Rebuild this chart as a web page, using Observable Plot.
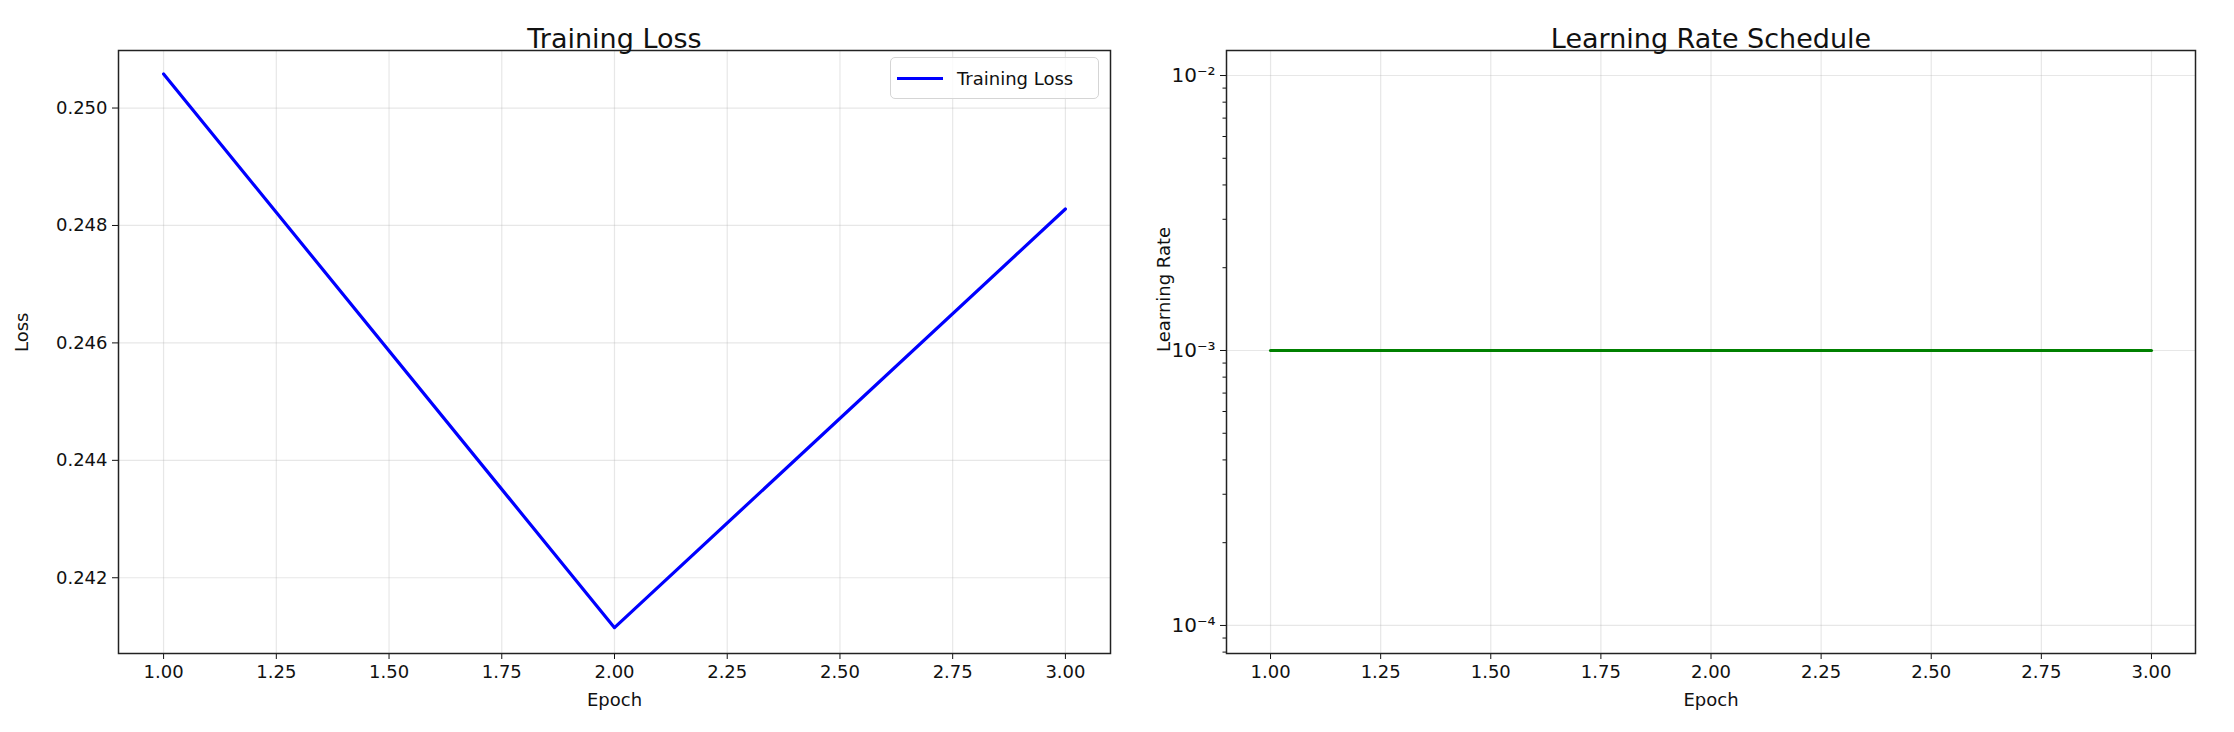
<!DOCTYPE html>
<html>
<head>
<meta charset="utf-8">
<script src="https://cdn.jsdelivr.net/npm/d3@7"></script>
<script src="https://cdn.jsdelivr.net/npm/@observablehq/plot@0.6"></script>
<style>
  body { margin: 0; background: white; font-family: "DejaVu Sans", sans-serif; }
  #wrap { position: relative; width: 2234px; height: 732px; display: flex; }
  .legend { position: absolute; left: 890px; top: 57px; width: 209px; height: 42px; box-sizing: border-box;
    border: 1.5px solid #d5d5d5; border-radius: 5px; background: rgba(255,255,255,0.8);
    display: flex; align-items: center; font-size: 18px; color: #111; }
  .legend span.sw { display: inline-block; width: 46px; height: 3px; background: blue; margin: 0 14px 0 6px; }
</style>
</head>
<body>
<div id="wrap"></div>
<script>
// values
const epochs = [1, 2, 3]
const loss = [0.25058, 0.24115, 0.24828]
const lr = [0.001, 0.001, 0.001]
const xTicks = [1, 1.25, 1.5, 1.75, 2, 2.25, 2.5, 2.75, 3]
const lossTicks = [0.242, 0.244, 0.246, 0.248, 0.250]
const lrTicks = [1e-4, 1e-3, 1e-2]

const lossData = epochs.map((e, i) => ({epoch: e, value: loss[i]}))
const lrData = epochs.map((e, i) => ({epoch: e, value: lr[i]}))

const sup = {"-": "⁻", "0": "⁰", "1": "¹", "2": "²", "3": "³", "4": "⁴", "5": "⁵", "6": "⁶", "7": "⁷", "8": "⁸", "9": "⁹"}
const logFmt = d => "10" + String(Math.round(Math.log10(d))).split("").map(c => sup[c]).join("")
// minor log ticks 2..9 per decade inside the domain
const minor = d3.range(-5, -1).flatMap(p => d3.range(2, 10).map(k => k * 10 ** p)).filter(v => v > 10 ** -4.102 && v < 10 ** -1.909)

const style = {fontFamily: "DejaVu Sans, sans-serif", fontSize: "18px", color: "#111", background: "white"}
const grid = {stroke: "#b0b0b0", strokeOpacity: 0.3, strokeWidth: 1.2}

let chart1 = Plot.plot({
  width: 1150, height: 732,
  marginLeft: 118, marginRight: 40, marginTop: 50, marginBottom: 79,
  style,
  x: {domain: [0.9, 3.1]},
  y: {domain: [0.24071, 0.25098]},
  marks: [
    Plot.gridX(xTicks, grid),
    Plot.gridY(lossTicks, grid),
    Plot.axisX(xTicks, {tickSize: 6, tickPadding: 6, tickFormat: d3.format(".2f"), fontSize: 18, label: null}),
    Plot.axisY(lossTicks, {tickSize: 6, tickPadding: 5, tickFormat: d3.format(".3f"), fontSize: 18, label: null}),
    Plot.lineY(lossData, {x: "epoch", y: "value", stroke: "blue", strokeWidth: 3.2}),
    Plot.frame({stroke: "#222", strokeWidth: 1.5}),
    Plot.text(["Training Loss"], {frameAnchor: "top", dy: -22, fontSize: 27}),
    Plot.text(["Epoch"], {frameAnchor: "bottom", dy: 52, fontSize: 18}),
    Plot.text(["Loss"], {frameAnchor: "left", dx: -96, rotate: -90, fontSize: 18})
  ]
})

let chart2 = Plot.plot({
  width: 1084, height: 732,
  marginLeft: 76, marginRight: 39, marginTop: 50, marginBottom: 79,
  style,
  x: {domain: [0.9, 3.1]},
  y: {type: "log", domain: [10 ** -4.102, 10 ** -1.909]},
  marks: [
    Plot.gridX(xTicks, grid),
    Plot.gridY(lrTicks, grid),
    Plot.axisX(xTicks, {tickSize: 6, tickPadding: 6, tickFormat: d3.format(".2f"), fontSize: 18, label: null}),
    Plot.axisY(lrTicks, {tickSize: 6, tickPadding: 5, tickFormat: logFmt, fontSize: 20, label: null}),
    Plot.axisY(minor, {tickSize: 3.5, tickFormat: () => "", label: null}),
    Plot.lineY(lrData, {x: "epoch", y: "value", stroke: "green", strokeWidth: 3.2}),
    Plot.frame({stroke: "#222", strokeWidth: 1.5}),
    Plot.text(["Learning Rate Schedule"], {frameAnchor: "top", dy: -22, fontSize: 27}),
    Plot.text(["Epoch"], {frameAnchor: "bottom", dy: 52, fontSize: 18}),
    Plot.text(["Learning Rate"], {frameAnchor: "left", dx: -62, rotate: -90, fontSize: 18})
  ]
})

d3.select('#wrap').append(() => chart1)
d3.select('#wrap').append(() => chart2)
d3.select('#wrap').append('div').attr('class', 'legend')
  .html('<span class="sw"></span>Training Loss')
</script>
</body>
</html>
